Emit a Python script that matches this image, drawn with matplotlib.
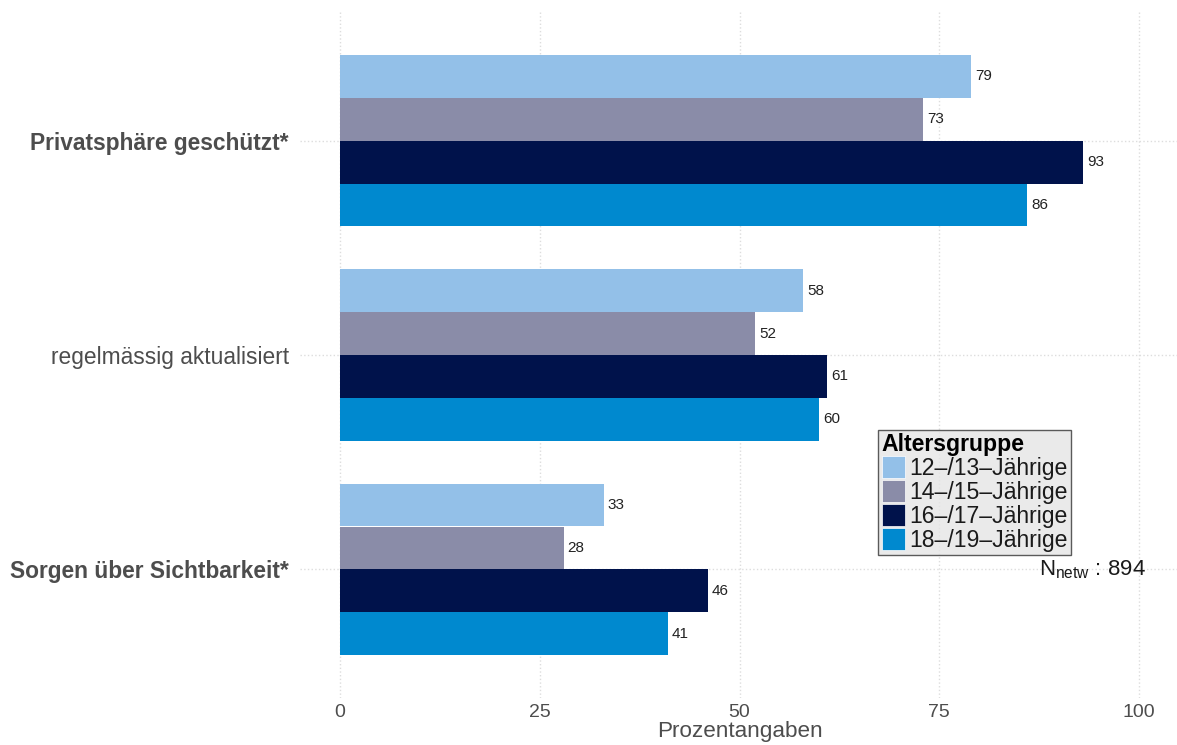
import numpy as np
import matplotlib.pyplot as plt
from matplotlib.patches import Patch

plt.rcParams['font.family'] = ['Liberation Sans', 'DejaVu Sans']
plt.rcParams['mathtext.fontset'] = 'custom'
plt.rcParams['mathtext.rm'] = 'Liberation Sans'

# data
kategorien = ["Privatsphäre geschützt*", "regelmässig aktualisiert", "Sorgen über Sichtbarkeit*"]
fett = [True, False, True]
gruppen = ["12–/13–Jährige", "14–/15–Jährige", "16–/17–Jährige", "18–/19–Jährige"]
werte_12_13 = [79, 58, 33]
werte_14_15 = [73, 52, 28]
werte_16_17 = [93, 61, 46]
werte_18_19 = [86, 60, 41]
farben = ["#93c0e8", "#8a8ca8", "#00124b", "#0089cf"]
n_netw = 894

alle = [werte_12_13, werte_14_15, werte_16_17, werte_18_19]

fig = plt.figure(figsize=(11.77, 7.45), dpi=100)
ax = fig.add_axes([300/1177, 1 - 698/745, 879/1177, 686/745])

pos = np.arange(len(kategorien))
h = 0.2
for i, (werte, farbe) in enumerate(zip(alle, farben)):
    y = pos + (i - 1.5) * h
    ax.barh(y, werte, height=h, color=farbe, zorder=2)
    for yy, v in zip(y, werte):
        ax.text(v + 0.5, yy, str(v), va='center', ha='left', fontsize=11, color='#222222')

ax.set_xlim(-5, 105)
ax.set_ylim(2.6, -0.6)
ax.set_xticks([0, 25, 50, 75, 100])
ax.set_xticklabels(["0", "25", "50", "75", "100"], fontsize=14, color='#4d4d4d')
ax.set_yticks(pos)
ax.set_yticklabels(kategorien, fontsize=16.4, color='#4d4d4d')
for lab, b in zip(ax.get_yticklabels(), fett):
    if b:
        lab.set_fontweight('bold')
ax.tick_params(length=0, pad=4)
ax.tick_params(axis='y', pad=8)
ax.grid(True, color='#dddddd', linestyle=':', linewidth=1.0, zorder=0)
for s in ax.spines.values():
    s.set_visible(False)
ax.set_xlabel("Prozentangaben", fontsize=16.2, color='#4d4d4d', labelpad=0)

handles = [Patch(facecolor=f, edgecolor='white', linewidth=0.5) for f in farben]
leg = ax.legend(handles, gruppen, title="Altersgruppe", loc='upper left',
                bbox_to_anchor=(0.658, 0.391), borderaxespad=0, fontsize=16.6,
                handlelength=1.0, handleheight=1.1, labelspacing=0.0,
                handletextpad=0.2, borderpad=0.15, fancybox=False,
                frameon=True, alignment='left')
leg.get_frame().set_facecolor('#e5e5e5')
leg.get_frame().set_edgecolor('#333333')
leg.get_frame().set_linewidth(1.0)
leg.get_title().set_fontweight('bold')
leg.get_title().set_fontsize(16.6)
for t in leg.get_texts():
    t.set_color('#1a1a1a')

ax.text(100.8, 2.0, r"N$_{\mathrm{netw}}$ : " + str(n_netw), ha='right', va='center',
        fontsize=16, color='#1a1a1a')

fig.savefig("out.png", dpi=100)
